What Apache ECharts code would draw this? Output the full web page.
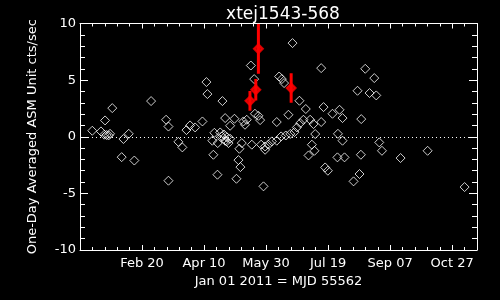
<!DOCTYPE html>
<html><head><meta charset="utf-8">
<script src="https://cdn.jsdelivr.net/npm/echarts@6/dist/echarts.min.js"></script>
<style>html,body{margin:0;padding:0;background:#000}#c{width:500px;height:300px}</style>
</head><body><div id="c"></div>
<script>
const chartTitle = 'xtej1543-568';
const yAxisTitle = 'One-Day Averaged ASM Unit cts/sec';
const xAxisTitle = 'Jan 01 2011 = MJD 55562';
const xTickValues = [50, 100, 150, 200, 250, 300];
const xTickLabels = ['Feb 20', 'Apr 10', 'May 30', 'Jul 19', 'Sep 07', 'Oct 27'];

// days since MJD 55562 and one-day averaged rate (cts/s)
const dayX = [9.9,16.9,20.2,26,19.6,21.5,23.1,24.2,35,39.3,33.6,43.8,57.3,69.4,71.3,71.3,79.3,82.5,85.8,88.7,
  92.8,98.7,101.9,102.7,114.8,117,124.5,121,131.7,108.3,113,106.7,111,114.3,117,121,119.7,128.5,130.4,107.5,
  127.7,129.3,110.8,126.1,116,118.5,137.7,140.4,160.5,162.7,164.5,171.3,176.9,168,158.6,141,143.8,145.2,133,134.4,
  182,180.1,177.5,174.8,172.9,169.5,165.9,162.1,158.6,154.6,151.9,149.2,146,138.5,149.2,147.9,194.4,229.9,237.2,223.7,
  233.4,238.8,196.3,203.5,209.2,211.6,226.7,185.5,188.2,194.4,189.6,207.9,211.6,241.2,243.4,186.9,189,184.2,207.5,213.2,
  226.4,197.6,199.8,225.3,220.5,258.4,280.2,310,118.2];
const rateY = [0.53,0.47,1.44,2.53,0.18,0.15,0.12,0.26,-0.2,0.26,-1.8,-2.1,3.15,1.5,0.9,-3.88,-0.45,-0.94,0.59,1.0,
  0.82,1.35,4.83,3.77,3.15,1.65,1.59,0.97,1.35,0.35,0.38,-0.35,-0.56,0.03,-0.35,-0.18,-0.56,-1.06,-0.56,-1.59,
  -2.06,-2.68,-3.35,-3.71,0.2,-0.05,6.29,5.09,5.32,5.09,4.74,8.27,3.18,1.94,1.3,2.03,1.85,1.47,1.06,1.5,
  2.45,1.5,1.2,0.82,0.41,0.25,0.11,0.03,-0.35,-0.41,-0.7,-0.86,-0.7,-0.7,-1.15,-4.38,6.06,6.0,5.18,4.06,
  3.86,3.65,2.62,2.03,2.38,1.65,1.56,1.5,1.12,1.3,0.24,0.26,-0.35,-0.5,-1.24,-0.7,-1.24,-1.65,-1.82,-1.82,
  -1.59,-2.71,-3.0,-3.29,-3.94,-1.88,-1.24,-4.44,-0.41];

// detections with error bars (red)
const flareDay = [137, 141.7, 143.8, 170.2];
const flareRate = [3.17, 4.15, 7.77, 4.3];
const flareErr = [0.88, 0.95, 2.2, 1.3];

const whiteData = dayX.map((d, i) => [d, rateY[i]]);
const redData = flareDay.map((d, i) => [d, flareRate[i]]);
const errData = flareDay.map((d, i) => [d, flareRate[i] - flareErr[i], flareRate[i] + flareErr[i]]);

const font = 'DejaVu Sans';
const labelMap = {};
xTickValues.forEach((v, i) => labelMap[v] = xTickLabels[i]);

const baseX = {
  type: 'value', min: 0, max: 320, interval: 50,
  axisLine: {show: true, onZero: false, lineStyle: {color: '#fff', width: 1}},
  axisTick: {show: true, inside: true, length: 5, lineStyle: {color: '#fff'}},
  minorTick: {show: true, splitNumber: 5, length: 3, lineStyle: {color: '#fff'}},
  splitLine: {show: false}, minorSplitLine: {show: false}
};
const baseY = {
  type: 'value', min: -10, max: 10, interval: 5,
  axisLine: {show: true, onZero: false, lineStyle: {color: '#fff', width: 1}},
  axisTick: {show: true, inside: true, length: 8, lineStyle: {color: '#fff'}},
  minorTick: {show: true, splitNumber: 5, length: 5, lineStyle: {color: '#fff'}},
  splitLine: {show: false}, minorSplitLine: {show: false}
};

const chart = echarts.init(document.getElementById('c'), null, {renderer: 'canvas'});
chart.setOption({
  backgroundColor: '#000',
  animation: false,
  title: {text: chartTitle, left: 278, textAlign: 'center', top: 1,
    textStyle: {color: '#fff', fontFamily: font, fontSize: 17, fontWeight: 'normal'}},
  grid: {left: 80, right: 23, top: 23.5, bottom: 50},
  xAxis: [
    Object.assign({}, baseX, {position: 'bottom',
      name: xAxisTitle, nameLocation: 'middle', nameGap: 22,
      nameTextStyle: {color: '#fff', fontFamily: font, fontSize: 13},
      axisLabel: {show: true, color: '#fff', fontFamily: font, fontSize: 13, margin: 7,
        formatter: v => labelMap[v] || ''}}),
    Object.assign({}, baseX, {position: 'top', axisLabel: {show: false}})
  ],
  yAxis: [
    Object.assign({}, baseY, {position: 'left',
      name: yAxisTitle, nameLocation: 'middle', nameGap: 41,
      nameTextStyle: {color: '#fff', fontFamily: font, fontSize: 13},
      axisLabel: {show: true, color: '#fff', fontFamily: font, fontSize: 13, margin: 4}}),
    Object.assign({}, baseY, {position: 'right', axisLabel: {show: false}})
  ],
  series: [
    {
      type: 'scatter', data: whiteData, symbol: 'diamond', symbolSize: 9,
      itemStyle: {color: 'rgba(0,0,0,0)', borderColor: '#fff', borderWidth: 1},
      markLine: {silent: true, symbol: ['none', 'none'], label: {show: false},
        lineStyle: {color: '#fff', type: [1, 3], width: 1}, data: [{yAxis: 0}]},
      z: 2
    },
    {
      type: 'custom', data: errData, clip: true, encode: {x: 0, y: [1, 2]},
      renderItem: function (params, api) {
        const p1 = api.coord([api.value(0), api.value(1)]);
        const p2 = api.coord([api.value(0), api.value(2)]);
        return {type: 'line', shape: {x1: p1[0], y1: p1[1], x2: p2[0], y2: p2[1]},
          style: {stroke: '#ff0000', lineWidth: 3}};
      },
      z: 3
    },
    {
      type: 'scatter', data: redData, symbol: 'diamond', symbolSize: 9,
      itemStyle: {color: '#ff0000', borderColor: '#ff0000', borderWidth: 2},
      z: 4
    }
  ]
});
</script>
</body></html>
